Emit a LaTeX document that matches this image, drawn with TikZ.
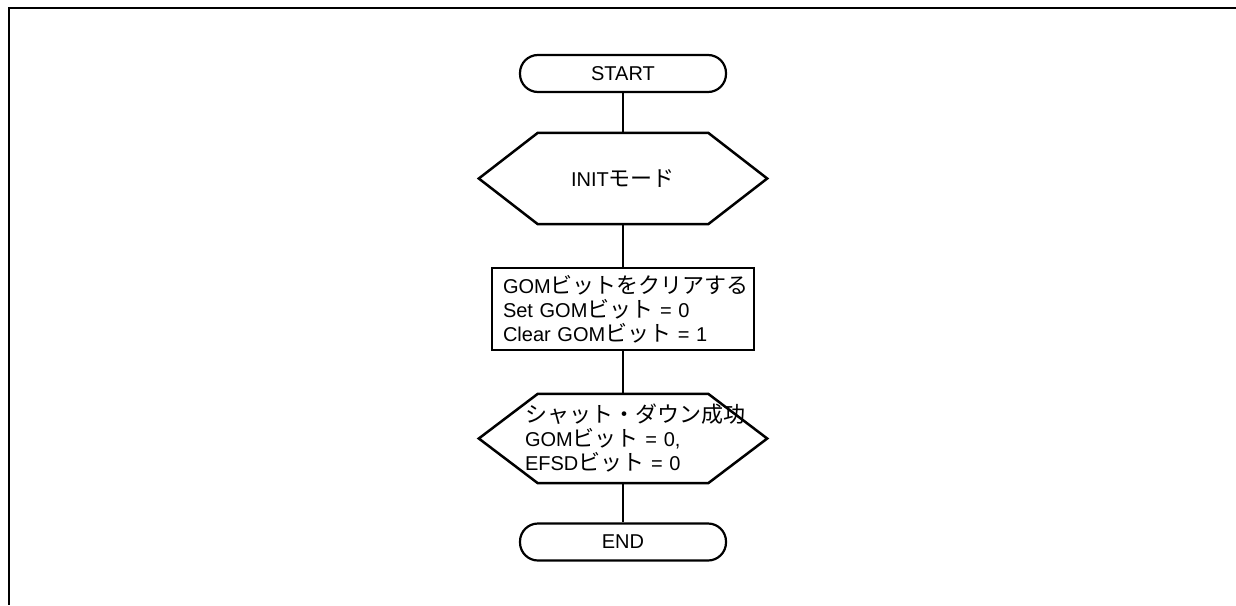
\documentclass[tikz,border=0pt]{standalone}
\usepackage{fontspec}
\setmainfont{Liberation Sans}
\newfontfamily\jpfont{Noto Sans CJK JP}[Scale=1.1]
\newcommand\jtxt[1]{{\jpfont #1}}
\begin{document}
\begin{tikzpicture}[x=1pt,y=-1pt,
  every node/.style={font=\fontsize{20}{24}\selectfont},
  term/.style={draw, line width=2.2pt, rounded corners=18pt, minimum width=206pt, minimum height=37pt, inner sep=0pt},
  hexnode/.style={minimum width=288pt, minimum height=#1, inner sep=0pt},
  procbox/.style={draw, line width=2.5pt, minimum width=262pt, minimum height=82pt, text width=240pt, align=left, inner xsep=11pt, inner ysep=0pt},
  shapeline/.style={line width=2.5pt, line join=miter},
  conn/.style={line width=1.2pt},
  frameline/.style={line width=2.5pt}]
\useasboundingbox (0,0) rectangle (1236,605);
\draw[frameline] (1236,8) -- (9,8) -- (9,605);

\node[term] (start) at (623,73.5) {START};
\node[hexnode=91pt] (h1) at (623,178.5) {INIT\jtxt{モード}};
\node[procbox] (box) at (623,309) {GOM\jtxt{ビットをクリアする}\\Set GOM\jtxt{ビット} = 0\\Clear GOM\jtxt{ビット} = 1};
\node[hexnode=89pt, text width=196pt, align=left, inner xsep=46pt] (h2) at (623,438.5) {\jtxt{シャット・ダウン成功}\\GOM\jtxt{ビット} = 0,\\EFSD\jtxt{ビット} = 0};
\node[term] (end) at (623,542) {END};

\foreach \h in {h1,h2}{
  \draw[shapeline] (\h.west) -- ([xshift=59pt]\h.north west) -- ([xshift=-59pt]\h.north east) -- (\h.east) -- ([xshift=-59pt]\h.south east) -- ([xshift=59pt]\h.south west) -- cycle;
}

\draw[conn] (start.south) -- (h1.north);
\draw[conn] (h1.south) -- (box.north);
\draw[conn] (box.south) -- (h2.north);
\draw[conn] (h2.south) -- (end.north);
\end{tikzpicture}
\end{document}
